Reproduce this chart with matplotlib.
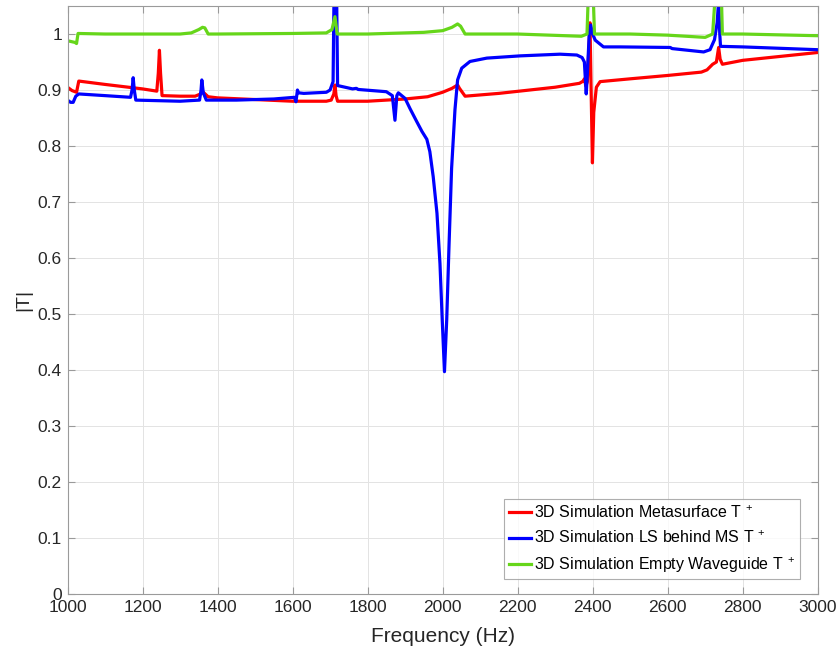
import matplotlib
matplotlib.use("Agg")
import matplotlib.pyplot as plt

plt.rcParams['font.family'] = ['Liberation Sans', 'DejaVu Sans']
plt.rcParams['mathtext.fontset'] = 'custom'
plt.rcParams['mathtext.rm'] = 'Liberation Sans'
plt.rcParams['mathtext.it'] = 'Liberation Sans'

# ---- data ----
f_green = [1000, 1020, 1024, 1028, 1100, 1300, 1330, 1350, 1360, 1366, 1375, 1400, 1600, 1690, 1705,
           1713, 1719, 1722, 1800, 1950, 2000, 2025, 2040, 2048, 2060, 2200, 2370, 2385, 2390, 2400,
           2405, 2500, 2600, 2700, 2720, 2730, 2742, 2746, 2800, 3000]
v_green = [0.988, 0.985, 0.983, 1.001, 1.0, 1.0, 1.002, 1.008, 1.012, 1.011, 1.0, 1.0, 1.001, 1.002, 1.008,
           1.031, 1.0, 1.0, 1.0, 1.003, 1.006, 1.012, 1.018, 1.014, 1.0, 1.0, 0.996, 1.0, 1.1, 1.1,
           1.0, 1.0, 0.998, 0.994, 1.0, 1.1, 1.1, 1.0, 1.0, 0.997]

f_red = [1000, 1012, 1024, 1030, 1100, 1200, 1238, 1242, 1245, 1248, 1252, 1300, 1340, 1355, 1362,
         1375, 1400, 1500, 1600, 1690, 1703, 1710, 1713, 1716, 1720, 1800, 1900, 1960, 2000, 2025,
         2040, 2045, 2060, 2150, 2300, 2365, 2375, 2378, 2382, 2386, 2389, 2393, 2396, 2399.5, 2403,
         2410, 2420, 2500, 2600, 2690, 2705, 2720, 2730, 2736, 2740, 2746, 2800, 2900, 3000]
v_red = [0.905, 0.899, 0.896, 0.916, 0.91, 0.902, 0.898, 0.93, 0.971, 0.93, 0.890, 0.889, 0.889, 0.893, 0.896,
         0.888, 0.886, 0.883, 0.880, 0.880, 0.882, 0.893, 0.909, 0.89, 0.880, 0.880, 0.884, 0.888, 0.896, 0.903,
         0.909, 0.903, 0.889, 0.894, 0.905, 0.912, 0.916, 0.920, 0.907, 0.915, 0.96, 1.02, 0.9, 0.77, 0.86,
         0.905, 0.915, 0.920, 0.926, 0.932, 0.936, 0.946, 0.950, 0.976, 0.955, 0.946, 0.953, 0.960, 0.967]

f_blue = [1000, 1008, 1015, 1022, 1030, 1100, 1168, 1172, 1175, 1178, 1182, 1300, 1352, 1356, 1358,
          1362, 1370, 1450, 1550, 1605, 1609, 1613, 1616, 1630, 1690, 1700, 1708, 1711, 1713, 1715,
          1717, 1720, 1760, 1770, 1775, 1850, 1866, 1873, 1878, 1882, 1900, 1913, 1930, 1945, 1958,
          1966, 1975, 1985, 1993, 1999, 2005, 2011, 2017, 2024, 2033, 2040, 2051, 2073, 2118, 2207,
          2313, 2358, 2372, 2378, 2383, 2386, 2391, 2395, 2400, 2407, 2429, 2473, 2607, 2612, 2696,
          2713, 2725, 2732, 2736, 2739, 2741, 2800, 3000]
v_blue = [0.882, 0.878, 0.878, 0.889, 0.893, 0.890, 0.887, 0.9, 0.922, 0.9, 0.882, 0.880, 0.882, 0.9, 0.918,
          0.895, 0.882, 0.882, 0.884, 0.887, 0.879, 0.9, 0.895, 0.894, 0.896, 0.9, 0.915, 1.1, 1.1, 1.1,
          1.1, 0.908, 0.902, 0.903, 0.901, 0.897, 0.89, 0.846, 0.89, 0.895, 0.885, 0.867, 0.845, 0.826, 0.812,
          0.790, 0.745, 0.680, 0.590, 0.490, 0.397, 0.490, 0.620, 0.760, 0.865, 0.918, 0.939, 0.951, 0.957, 0.961,
          0.964, 0.9625, 0.958, 0.95, 0.893, 0.93, 1.0, 1.016, 1.0, 0.989, 0.977, 0.977, 0.976, 0.974, 0.968,
          0.972, 0.99, 1.02, 1.06, 1.0, 0.978, 0.977, 0.972]

labels = ['3D Simulation Metasurface T$^{\\ +}$',
          '3D Simulation LS behind MS T$^{\\ +}$',
          '3D Simulation Empty Waveguide T$^{\\ +}$']
xticks = list(range(1000, 3001, 200))
yticks = [round(0.1 * i, 1) for i in range(11)]
ytick_labels = ['0', '0.1', '0.2', '0.3', '0.4', '0.5', '0.6', '0.7', '0.8', '0.9', '1']

# ---- figure ----
fig = plt.figure(figsize=(8.4, 6.48), dpi=100)
ax = fig.add_axes([0.0804, 0.0833, 0.893, 0.9074])

lw = 2.3
ax.plot(f_red, v_red, color=(1, 0, 0), lw=lw, label=labels[0], solid_joinstyle='round')
ax.plot(f_blue, v_blue, color=(0, 0, 1), lw=lw, label=labels[1], solid_joinstyle='round')
ax.plot(f_green, v_green, color=(0.4, 0.84, 0.1), lw=lw, label=labels[2], solid_joinstyle='round')

ax.set_xlim(1000, 3000)
ax.set_ylim(0, 1.05)
ax.set_xticks(xticks)
ax.set_yticks(yticks)
ax.set_yticklabels(ytick_labels)

ax.grid(True, color='#e3e3e3', lw=0.7)
ax.set_axisbelow(True)
for s in ax.spines.values():
    s.set_color('#9a9a9a')
    s.set_linewidth(0.8)
ax.tick_params(direction='in', length=5, width=0.8, color='#9a9a9a', labelcolor='#262626',
               labelsize=12.5, top=True, right=True, pad=4)

ax.set_xlabel('Frequency (Hz)', fontsize=15, color='#262626', labelpad=9)
ax.set_ylabel('|T|', fontsize=14, color='#262626', labelpad=4)

leg = ax.legend(loc='lower right', bbox_to_anchor=(0.977, 0.025), borderaxespad=0,
                fontsize=11.5, frameon=True, fancybox=False, edgecolor='#9a9a9a',
                handlelength=1.4, handletextpad=0.2, borderpad=0.3, labelspacing=0.55)
leg.get_frame().set_linewidth(0.8)
for t in leg.get_texts():
    t.set_color('black')

fig.savefig('out.png', dpi=100)
